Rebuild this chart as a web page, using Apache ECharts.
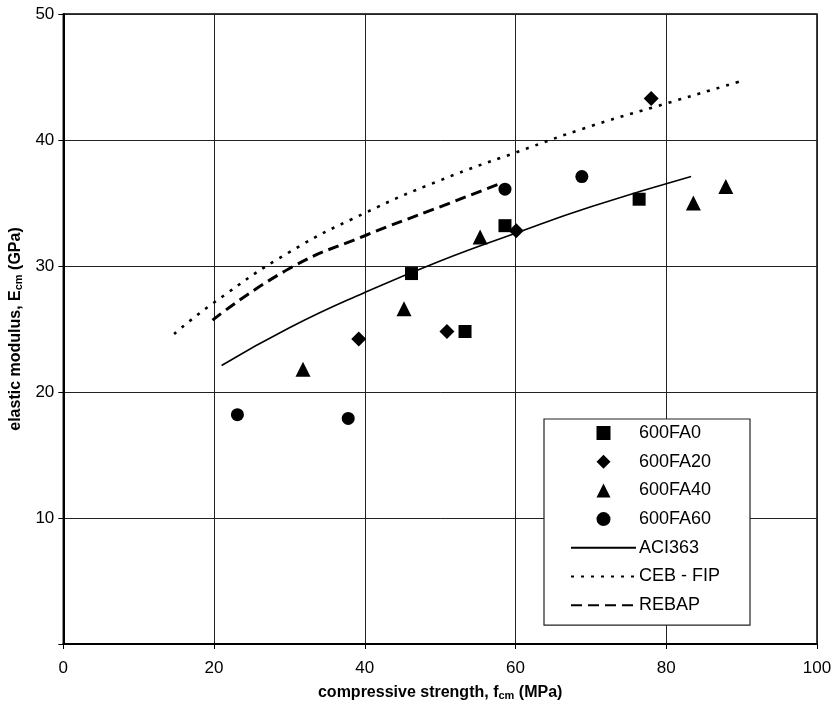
<!DOCTYPE html>
<html>
<head>
<meta charset="utf-8">
<script src="https://cdn.jsdelivr.net/npm/echarts@6/dist/echarts.min.js"></script>
<style>
html,body{margin:0;padding:0;background:#fff;}
#c{width:835px;height:706px;}
</style>
</head>
<body>
<div id="c"></div>
<script>
// ---- data ----
var fa0  = [[46.2, 29.4], [53.3, 24.8], [58.6, 33.2], [76.4, 35.3]];
var fa20 = [[39.2, 24.2], [50.9, 24.8], [60.1, 32.8], [78.0, 43.3]];
var fa40 = [[31.8, 21.8], [45.2, 26.6], [55.3, 32.3], [83.6, 35.0], [87.9, 36.3]];
var fa60 = [[23.1, 18.2], [37.8, 17.9], [58.6, 36.1], [68.8, 37.1]];
var aci363 = [[21.0, 22.1], [30, 25.1], [40, 27.9], [50, 30.4], [60, 32.6], [70, 34.7], [83.3, 37.1]];
var cebfip = [[14.7, 24.6], [20, 27.1], [30, 31.1], [40, 34.2], [50, 36.8], [60, 39.0], [70, 41.1], [80, 42.9], [90.1, 44.7]];
var rebap  = [[19.8, 25.7], [30, 29.8], [40, 32.4], [50, 34.7], [57.8, 36.5]];
var xTicks = [0, 20, 40, 60, 80, 100];
var yTicks = [10, 20, 30, 40, 50];
var names = ['600FA0', '600FA20', '600FA40', '600FA60', 'ACI363', 'CEB - FIP', 'REBAP'];

var FONT = 'Liberation Sans, Arial, sans-serif';
var chart = echarts.init(document.getElementById('c'));
var black = { color: '#000', opacity: 1 };
chart.setOption({
  animation: false,
  backgroundColor: '#fff',
  grid: { left: 58, right: 18, top: 14, bottom: 62, show: true, borderColor: '#000', borderWidth: 1.5 },
  xAxis: {
    type: 'value', min: xTicks[0], max: xTicks[xTicks.length - 1], interval: 20,
    name: '{b|compressive strength, f}{s|cm}{b| (MPa)}',
    nameLocation: 'middle', nameGap: 40,
    nameTextStyle: { rich: {
      b: { fontFamily: FONT, fontWeight: 'bold', fontSize: 16, color: '#000' },
      s: { fontFamily: FONT, fontWeight: 'bold', fontSize: 11, color: '#000', padding: [6, 0, 0, 0] }
    } },
    axisLine: { show: true, lineStyle: { color: '#000', width: 2 } },
    axisTick: { show: true, length: 5, lineStyle: { color: '#000' } },
    axisLabel: { fontFamily: FONT, fontSize: 17, color: '#000', margin: 16 },
    splitLine: { show: true, lineStyle: { color: '#222', width: 1 } }
  },
  yAxis: {
    type: 'value', min: 0, max: yTicks[yTicks.length - 1], interval: 10,
    name: '{b|elastic modulus, E}{s|cm}{b| (GPa)}',
    nameLocation: 'middle', nameGap: 30, nameRotate: 90,
    nameTextStyle: { rich: {
      b: { fontFamily: FONT, fontWeight: 'bold', fontSize: 16, color: '#000' },
      s: { fontFamily: FONT, fontWeight: 'bold', fontSize: 11, color: '#000', padding: [6, 0, 0, 0] }
    } },
    axisLine: { show: true, lineStyle: { color: '#000', width: 2 } },
    axisTick: { show: true, length: 5, lineStyle: { color: '#000' } },
    axisLabel: { fontFamily: FONT, fontSize: 17, color: '#000', margin: 9,
      formatter: function (v) { return v === 0 ? '' : String(v); } },
    splitLine: { show: true, lineStyle: { color: '#222', width: 1 } }
  },
  legend: {
    orient: 'vertical', left: 544, top: 419,
    padding: [5, 30, 11, 26],
    itemWidth: 65, itemHeight: 14, itemGap: 10.7,
    symbolKeepAspect: true,
    backgroundColor: '#fff', borderColor: '#222', borderWidth: 1.2, borderRadius: 0,
    textStyle: { fontFamily: FONT, fontSize: 18, color: '#000', padding: [0, 0, 0, -2] },
    data: [
      { name: names[0], icon: 'path://M0,0H10V10H0Z', itemStyle: { opacity: 1 } },
      { name: names[1], icon: 'path://M5,0L10,5L5,10L0,5Z', itemStyle: { opacity: 1 } },
      { name: names[2], icon: 'path://M5,0L10,10H0Z', itemStyle: { opacity: 1 } },
      { name: names[3], icon: 'path://M5,0A5,5,0,1,1,4.99,0Z', itemStyle: { opacity: 1 } },
      { name: names[4], itemStyle: { opacity: 0 } },
      { name: names[5], itemStyle: { opacity: 0 } },
      { name: names[6], itemStyle: { opacity: 0 } }
    ]
  },
  series: [
    { name: names[0], type: 'scatter', data: fa0, symbol: 'rect', symbolSize: 13, itemStyle: black },
    { name: names[1], type: 'scatter', data: fa20, symbol: 'diamond', symbolSize: 15, itemStyle: black },
    { name: names[2], type: 'scatter', data: fa40, symbol: 'triangle', symbolSize: 15, itemStyle: black },
    { name: names[3], type: 'scatter', data: fa60, symbol: 'circle', symbolSize: 13, itemStyle: black },
    { name: names[4], type: 'line', data: aci363, smooth: true, symbol: 'none', lineStyle: { color: '#000', width: 1.6 }, itemStyle: black, z: 1 },
    { name: names[5], type: 'line', data: cebfip, smooth: true, symbol: 'none', lineStyle: { color: '#000', width: 2.6, type: [3, 7] }, itemStyle: black, z: 1 },
    { name: names[6], type: 'line', data: rebap, smooth: true, symbol: 'none', lineStyle: { color: '#000', width: 3, type: [11, 6] }, itemStyle: black, z: 1 }
  ]
});
</script>
</body>
</html>
